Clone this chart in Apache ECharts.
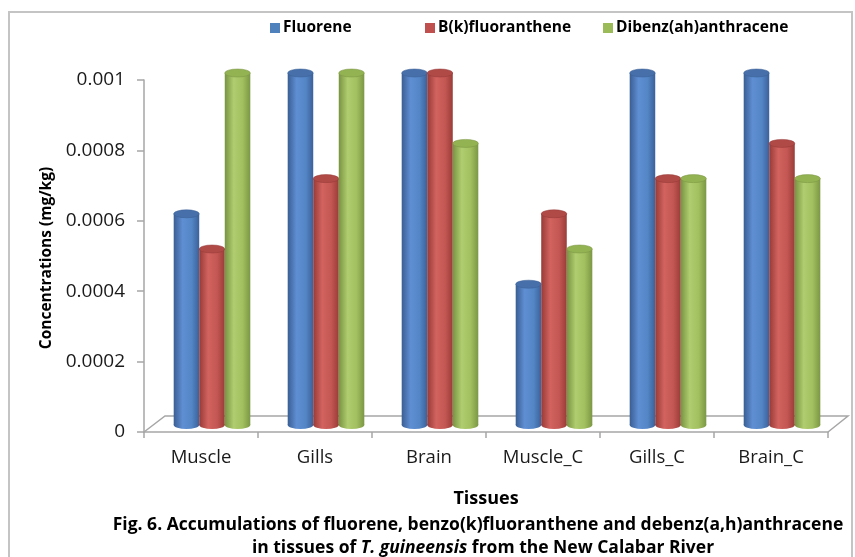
<!DOCTYPE html>
<html><head><meta charset="utf-8">
<script src="https://cdn.jsdelivr.net/npm/echarts@6/dist/echarts.min.js"></script>
<style>html,body{margin:0;padding:0;background:#fff}#c{width:855px;height:557px}</style>
</head><body><div id="c"></div>
<script>
const categories = ['Muscle','Gills','Brain','Muscle_C','Gills_C','Brain_C'];
const seriesNames = ['Fluorene','B(k)fluoranthene','Dibenz(ah)anthracene'];
const fluorene = [0.0006, 0.001, 0.001, 0.0004, 0.001, 0.001];
const bkf = [0.0005, 0.0007, 0.001, 0.0006, 0.0007, 0.0008];
const dibenz = [0.001, 0.001, 0.0008, 0.0005, 0.0007, 0.0007];
const yTicks = [0, 0.0002, 0.0004, 0.0006, 0.0008, 0.001];

const FONT = 'Open Sans';
const GL = 144, GT = 80, GW = 684, GH = 352;
const DX = 11, DY = 7;

const palettes = [
  {base:'#4f81bd', stops:['#3a5e93','#5f8fd3','#5486c6','#3b619a'], top:'#4770ab', rim:'#3a5e93'},
  {base:'#c0504d', stops:['#963a37','#d2635f','#c45753','#9a3c39'], top:'#b04a47', rim:'#963a37'},
  {base:'#9bbb59', stops:['#789341','#b0cd6f','#a2c05f','#7b9744'], top:'#93b353', rim:'#789341'}
];
const dataSets = [fluorene, bkf, dibenz];

function grad(stops){
  return {type:'linear',x:0,y:0,x2:1,y2:0,colorStops:[
    {offset:0,color:stops[0]},{offset:0.35,color:stops[1]},{offset:0.7,color:stops[2]},{offset:1,color:stops[3]}]};
}

function makeRender(s){
  const p = palettes[s];
  return function(params, api){
    const ci = api.value(0), v = api.value(1);
    const top = api.coord([ci, v]);
    const base = api.coord([ci, 0]);
    const catW = api.size([1,0])[0];
    const bw = catW*0.224;
    const x0 = top[0] - 1.5*bw + s*bw;
    const rx = bw/2, ry = 4;
    const cx = x0 + rx;
    return {type:'group', children:[
      {type:'circle', shape:{cx:0,cy:0,r:rx}, x:cx, y:base[1], scaleY:ry/rx, style:{fill:grad(p.stops)}},
      {type:'rect', shape:{x:x0,y:top[1],width:bw,height:base[1]-top[1]}, style:{fill:grad(p.stops)}},
      {type:'circle', shape:{cx:0,cy:0,r:rx}, x:cx, y:top[1], scaleY:ry/rx, style:{fill:p.top, stroke:p.rim, lineWidth:0.8}}
    ]};
  };
}

const chart = echarts.init(document.getElementById('c'), null, {renderer:'canvas'});
const series = seriesNames.map((n,s)=>({
  name:n, type:'custom', xAxisIndex:1, yAxisIndex:1,
  itemStyle:{color:palettes[s].base},
  renderItem: makeRender(s),
  encode:{x:0,y:1},
  data: dataSets[s].map((v,i)=>[i,v])
}));

const legendLeft = [265, 420, 598];
const CAP = 17.5;
chart.setOption({
  animation:false,
  textStyle:{fontFamily:FONT},
  legend: seriesNames.map((n,i)=>({
    data:[n], left:legendLeft[i], top:15, icon:'rect', itemWidth:10, itemHeight:10, itemGap:0,
    selectedMode:false,
    textStyle:{fontFamily:FONT, fontWeight:'bold', fontSize:15.5, color:'#000', padding:[0,0,0,-2]}
  })),
  grid:[
    {left:GL, top:GT, width:GW, height:GH},
    {left:GL+DX, top:GT-DY, width:GW, height:GH}
  ],
  xAxis:[
    {type:'category', gridIndex:0, data:categories, boundaryGap:true,
     axisLine:{lineStyle:{color:'#a6a6a6', width:1.5}},
     axisTick:{show:true, length:6, alignWithLabel:false, lineStyle:{color:'#a6a6a6', width:1.5}},
     axisLabel:{fontFamily:FONT, fontSize:18.5, color:'#1a1a1a', margin:16},
     name:'Tissues', nameLocation:'middle', nameGap:58,
     nameTextStyle:{fontFamily:FONT, fontWeight:'bold', fontSize:18, color:'#000'}},
    {type:'category', gridIndex:1, data:categories, show:false}
  ],
  yAxis:[
    {type:'value', gridIndex:0, min:0, max:0.001, interval:0.0002,
     axisLine:{show:true, lineStyle:{color:'#a6a6a6', width:1.5}},
     axisTick:{show:true, length:7, lineStyle:{color:'#a6a6a6', width:1.5}},
     splitLine:{show:false},
     axisLabel:{fontFamily:FONT, fontSize:19, color:'#1a1a1a', margin:19,
       formatter:(v)=>{const t=yTicks.find(x=>Math.abs(x-v)<1e-9); return t===0?'0':String(+v.toFixed(4));}}},
    {type:'value', gridIndex:1, min:0, max:0.001, show:false, splitLine:{show:false}}
  ],
  graphic:[
    {type:'rect', shape:{x:9,y:12,width:843,height:560}, style:{fill:'none', stroke:'#c4c4c4', lineWidth:2}, silent:true, z:-1},
    {type:'polyline', shape:{points:[[GL,GT+GH],[GL+21,GT+GH-16],[GL+GW+20,GT+GH-16],[GL+GW,GT+GH]]},
     style:{fill:'none', stroke:'#a6a6a6', lineWidth:1.5}, silent:true, z:-1},
    {type:'text', x:47, y:GT+GH/2+2, rotation:Math.PI/2,
     style:{text:'Concentrations (mg/kg)', fontFamily:FONT, fontWeight:'bold', fontSize:15.5, fill:'#000', align:'center', verticalAlign:'middle'}},
    {type:'text', x:478, y:525, style:{text:'Fig. 6. Accumulations of fluorene, benzo(k)fluoranthene and debenz(a,h)anthracene',
      fontFamily:FONT, fontWeight:'bold', fontSize:CAP, fill:'#000', align:'center', verticalAlign:'middle'}},
    {type:'text', x:483, y:548, style:{text:'{b|in tissues of }{i|T. guineensis}{b| from the New Calabar River}',
      align:'center', verticalAlign:'middle',
      rich:{b:{fontFamily:FONT, fontWeight:'bold', fontSize:CAP, fill:'#000'},
            i:{fontFamily:FONT, fontWeight:'bold', fontStyle:'italic', fontSize:CAP, fill:'#000'}}}}
  ],
  series: series
});
</script></body></html>
